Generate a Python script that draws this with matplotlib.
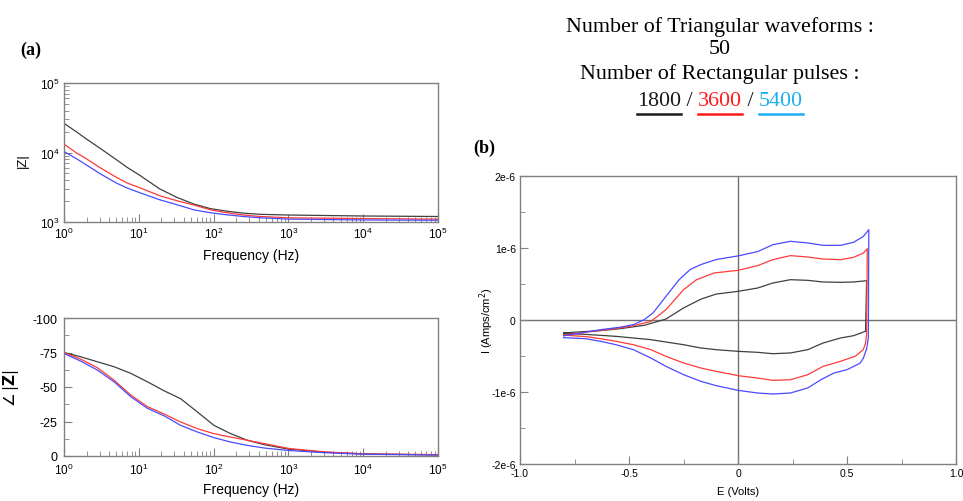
import numpy as np
import matplotlib
matplotlib.use('Agg')
import matplotlib.pyplot as plt
from matplotlib.ticker import LogLocator, MultipleLocator, FixedLocator, NullFormatter, FixedFormatter

plt.rcParams['axes.unicode_minus'] = False

# impedance modulus, three pulse counts
freq_z = [1, 1.48, 2, 3, 5, 7, 10, 19, 32, 54, 90, 150, 250, 420, 1e3, 1e4, 1e5]
z_1800 = [2.63e4, 1.97e4, 1.56e4, 1.16e4, 7.9e3, 6.1e3, 4.8e3, 3.0e3, 2.27e3, 1.82e3, 1.56e3, 1.43e3, 1.34e3, 1.29e3, 1.26e3, 1.22e3, 1.2e3]
z_3600 = [1.32e4, 9.8e3, 8.1e3, 6.1e3, 4.4e3, 3.64e3, 3.15e3, 2.39e3, 2.03e3, 1.76e3, 1.5e3, 1.36e3, 1.26e3, 1.2e3, 1.15e3, 1.12e3, 1.1e3]
z_5400 = [1.03e4, 8.1e3, 6.6e3, 5.0e3, 3.64e3, 3.08e3, 2.67e3, 2.09e3, 1.78e3, 1.5e3, 1.36e3, 1.27e3, 1.2e3, 1.15e3, 1.1e3, 1.07e3, 1.06e3]

# phase angle
freq_ph = [1, 1.67, 2.79, 4.66, 7.8, 13, 21.7, 36.3, 60.7, 101, 169, 283, 474, 1e3, 3e3, 1e4, 1e5]
ph_1800 = [-75, -71.9, -68.3, -64.7, -59.9, -53.8, -47.3, -41.5, -31.9, -22.2, -16.2, -11.4, -8.2, -5.0, -2.8, -1.5, -0.8]
ph_3600 = [-75, -70.2, -64, -55, -44.2, -35.8, -30.5, -24.6, -19.8, -16.2, -13.7, -11.4, -9.0, -5.5, -3.0, -1.6, -1.0]
ph_5400 = [-74.3, -68.8, -62.3, -53.8, -43, -34.6, -29.2, -22.2, -17.4, -13.3, -10.1, -7.7, -5.8, -4.0, -2.4, -1.3, -0.7]

# cyclic voltammograms (potential in V, current in uA/cm2), forward sweep then reverse
cv_e_1800 = [-0.8, -0.7, -0.63, -0.54, -0.43, -0.33, -0.25, -0.17, -0.1, 0, 0.09, 0.16, 0.24, 0.32, 0.39, 0.47, 0.53, 0.59,
             0.585, 0.53, 0.47, 0.39, 0.32, 0.24, 0.16, 0.09, 0, -0.1, -0.17, -0.25, -0.33, -0.4, -0.48, -0.56, -0.63, -0.7, -0.8]
cv_i_1800 = [-0.18, -0.16, -0.148, -0.12, -0.074, 0.014, 0.167, 0.29, 0.36, 0.398, 0.444, 0.514, 0.56, 0.551, 0.528, 0.523, 0.528, 0.546,
             -0.157, -0.218, -0.25, -0.32, -0.412, -0.458, -0.468, -0.449, -0.435, -0.412, -0.389, -0.343, -0.306, -0.273, -0.25, -0.227, -0.213, -0.2, -0.185]

cv_e_3600 = [-0.8, -0.7, -0.63, -0.54, -0.48, -0.4, -0.33, -0.25, -0.19, -0.11, 0, 0.09, 0.16, 0.24, 0.32, 0.39, 0.47, 0.53, 0.575, 0.593,
             0.59, 0.585, 0.575, 0.54, 0.47, 0.39, 0.32, 0.24, 0.16, 0.09, 0, -0.1, -0.17, -0.25, -0.33, -0.4, -0.48, -0.56, -0.63, -0.7, -0.8]
cv_i_3600 = [-0.21, -0.17, -0.144, -0.11, -0.08, -0.02, 0.144, 0.42, 0.56, 0.653, 0.69, 0.755, 0.838, 0.894, 0.875, 0.847, 0.838, 0.87, 0.93, 0.99,
             -0.2, -0.32, -0.41, -0.5, -0.574, -0.644, -0.76, -0.83, -0.838, -0.806, -0.773, -0.713, -0.667, -0.597, -0.505, -0.412, -0.343, -0.296, -0.26, -0.23, -0.21]

cv_e_5400 = [-0.8, -0.7, -0.63, -0.54, -0.48, -0.43, -0.39, -0.33, -0.27, -0.22, -0.17, -0.1, 0, 0.09, 0.16, 0.24, 0.32, 0.39, 0.47, 0.53, 0.575, 0.6,
             0.598, 0.59, 0.575, 0.56, 0.5, 0.44, 0.38, 0.32, 0.24, 0.16, 0.09, 0, -0.1, -0.17, -0.25, -0.33, -0.4, -0.48, -0.56, -0.63, -0.7, -0.8]
cv_i_5400 = [-0.22, -0.17, -0.134, -0.10, -0.065, 0.005, 0.097, 0.33, 0.56, 0.70, 0.77, 0.84, 0.89, 0.95, 1.046, 1.093, 1.07, 1.037, 1.037, 1.079, 1.16, 1.255,
             -0.25, -0.4, -0.53, -0.6, -0.69, -0.736, -0.83, -0.944, -1.014, -1.028, -1.014, -0.977, -0.912, -0.852, -0.759, -0.644, -0.528, -0.412, -0.343, -0.296, -0.26, -0.245]

counts = ['1800', '3600', '5400']
line_colors = ['#404040', '#ff3a3a', '#4a4aff']
label_colors = ['#1a1a1a', '#ff1a1a', '#19b0f0']

spine_col = '#808080'
sans = 'Liberation Sans'
serif = 'Liberation Serif'

fig = plt.figure(figsize=(9.63, 5.02), dpi=100)
W, H = 963, 502


def box(x0, y0, x1, y1):
    return [x0 / W, 1 - y1 / H, (x1 - x0) / W, (y1 - y0) / H]


def style(ax, size=8.5):
    for s in ax.spines.values():
        s.set_color(spine_col)
        s.set_linewidth(1.0)
    ax.tick_params(which='both', direction='in', color=spine_col, labelsize=size, top=False, right=False, pad=3)
    ax.tick_params(which='major', length=6)
    ax.tick_params(which='minor', length=3.5)
    for t in ax.get_xticklabels() + ax.get_yticklabels():
        t.set_fontfamily(sans)


# |Z| vs frequency
ax1 = fig.add_axes(box(64, 84, 438, 223))
for z, c in zip([z_1800, z_3600, z_5400], line_colors):
    ax1.plot(freq_z, z, color=c, lw=0.9)
ax1.set_xscale('log')
ax1.set_yscale('log')
ax1.set_xlim(1, 1e5)
ax1.set_ylim(1e3, 1e5)
ax1.xaxis.set_minor_locator(LogLocator(base=10, subs=np.arange(2, 10)))
ax1.yaxis.set_minor_locator(LogLocator(base=10, subs=np.arange(2, 10)))
ax1.xaxis.set_minor_formatter(NullFormatter())
ax1.yaxis.set_minor_formatter(NullFormatter())
style(ax1)
ax1.set_xlabel('Frequency (Hz)', fontsize=10, family=sans, labelpad=5)
ax1.set_ylabel('|Z|', fontsize=9.5, family=sans)
ax1.yaxis.set_label_coords(-0.095, 0.45)

# phase vs frequency
ax2 = fig.add_axes(box(64, 319, 438, 457))
for p, c in zip([ph_1800, ph_3600, ph_5400], line_colors):
    ax2.plot(freq_ph, p, color=c, lw=0.9)
ax2.set_xscale('log')
ax2.set_xlim(1, 1e5)
ax2.set_ylim(0, -100)
ax2.yaxis.set_major_locator(MultipleLocator(25))
ax2.yaxis.set_minor_locator(MultipleLocator(12.5))
ax2.xaxis.set_minor_locator(LogLocator(base=10, subs=np.arange(2, 10)))
ax2.xaxis.set_minor_formatter(NullFormatter())
style(ax2)
ax2.tick_params(axis='y', labelsize=9, pad=5)
ax2.tick_params(axis='x', pad=4)
ax2.set_xlabel('Frequency (Hz)', fontsize=10, family=sans, labelpad=4)
ax2.set_ylabel(r'$\angle\,|\mathbf{Z}|$', fontsize=11)
ax2.yaxis.set_label_coords(-0.115, 0.5)

# CV loops
ax3 = fig.add_axes(box(520, 177, 956, 465))
for e, i, c in zip([cv_e_1800, cv_e_3600, cv_e_5400], [cv_i_1800, cv_i_3600, cv_i_5400], line_colors):
    ax3.plot(e, np.array(i) * 1e-6, color=c, lw=0.9)
ax3.axhline(0, color='#707070', lw=1.0, zorder=0)
ax3.axvline(0, color='#707070', lw=1.0, zorder=0)
ax3.set_xlim(-1, 1)
ax3.set_ylim(-2e-6, 2e-6)
ax3.xaxis.set_major_locator(FixedLocator([-1, -0.5, 0, 0.5, 1]))
ax3.xaxis.set_major_formatter(FixedFormatter(['-1.0', '-0.5', '0', '0.5', '1.0']))
ax3.xaxis.set_minor_locator(MultipleLocator(0.25))
ax3.yaxis.set_major_locator(FixedLocator([-2e-6, -1e-6, 0, 1e-6, 2e-6]))
ax3.yaxis.set_major_formatter(FixedFormatter(['-2e-6', '-1e-6', '0', '1e-6', '2e-6']))
ax3.yaxis.set_minor_locator(MultipleLocator(0.5e-6))
style(ax3, size=7.5)
ax3.set_xlabel('E (Volts)', fontsize=8, family=sans, labelpad=6)
ax3.set_ylabel(r'I (Amps/cm$^2$)', fontsize=8, family=sans)
ax3.yaxis.set_label_coords(-0.055, 0.5)

# panel letters
fig.text(20 / W, 1 - 50 / H, '(a)', fontsize=13, family=serif, weight='bold', va='center')
fig.text(473 / W, 1 - 148 / H, '(b)', fontsize=13, family=serif, weight='bold', va='center')

# header lines
cx = 720
fs = 15.8
fig.text(cx / W, 1 - 27 / H, 'Number of Triangular waveforms :', fontsize=fs, family=serif, ha='center', va='center')
fig.text(cx / W, 1 - 50 / H, '50', fontsize=fs, family=serif, ha='center', va='center')
fig.text(cx / W, 1 - 74 / H, 'Number of Rectangular pulses :', fontsize=fs, family=serif, ha='center', va='center')

# colored counts with underlines
pieces = [(counts[0], label_colors[0]), (' / ', '#1a1a1a'), (counts[1], label_colors[1]),
          (' / ', '#1a1a1a'), (counts[2], label_colors[2])]
fig.canvas.draw()
r = fig.canvas.get_renderer()
texts = []
for s, c in pieces:
    t = fig.text(0, 1 - 101 / H, s, fontsize=fs, family=serif, color=c, ha='left', va='center')
    texts.append(t)
widths = [t.get_window_extent(r).width for t in texts]
x = cx - sum(widths) / 2
for t, w, (s, c) in zip(texts, widths, pieces):
    t.set_x(x / W)
    if s.strip() != '/':
        fig.add_artist(plt.Line2D([x / W, (x + w) / W], [1 - 115 / H] * 2, color=c, lw=1.8,
                                  transform=fig.transFigure))
    x += w

fig.savefig('out.png', dpi=100)
